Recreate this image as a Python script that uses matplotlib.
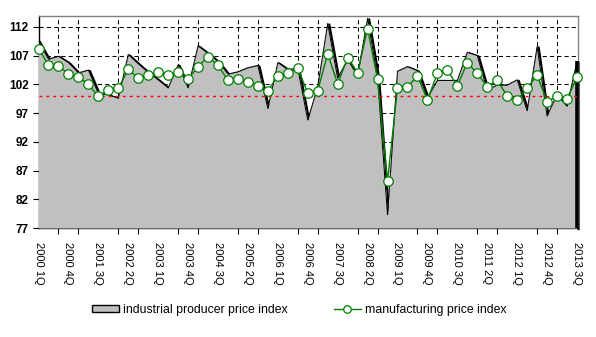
"""Quarterly price indices: industrial producer (area) vs manufacturing (line)."""

import matplotlib

matplotlib.use("Agg")
import matplotlib.pyplot as plt
from matplotlib.transforms import offset_copy

plt.rcParams["font.family"] = ["Liberation Sans", "DejaVu Sans"]

# Quarters 2000 1Q .. 2013 3Q
quarters = [f"{y} {q}Q" for y in range(2000, 2014) for q in range(1, 5)][:55]

industrial = [
    109.5, 106.4, 106.9, 105.8, 104.0, 104.5, 100.4, 100.2, 99.6, 107.2,
    105.6, 104.1, 102.8, 101.4, 105.4, 101.4, 108.7, 107.4, 106.0, 103.8,
    104.2, 104.9, 105.3, 97.8, 105.8, 104.6, 104.8, 95.8, 101.6, 112.6,
    103.1, 106.3, 103.5, 113.5, 103.2, 79.3, 104.3, 105.1, 104.4, 99.6,
    102.7, 102.7, 102.7, 107.6, 107.0, 101.0, 101.9, 101.9, 102.8, 97.4,
    108.6, 96.5, 100.2, 98.2, 106.0,
]

manufacturing = [
    108.2, 105.4, 105.2, 103.8, 103.3, 102.0, 99.9, 101.1, 101.3, 104.6,
    103.1, 103.6, 104.2, 103.6, 104.1, 102.9, 105.1, 106.8, 105.3, 102.7,
    102.9, 102.5, 101.8, 100.9, 103.5, 104.0, 104.8, 100.5, 100.9, 107.3,
    102.1, 106.6, 104.0, 111.7, 102.9, 85.2, 101.3, 101.5, 103.5, 99.3,
    103.9, 104.5, 101.7, 105.8, 103.9, 101.6, 102.7, 100.0, 99.3, 101.3,
    103.6, 99.0, 99.9, 99.5, 103.2,
]

baseline = 100
y_ticks = [77, 82, 87, 92, 97, 102, 107, 112]

x = list(range(len(quarters)))
y_floor = 77

fig = plt.figure(figsize=(5.96, 3.37), dpi=100)
fig.subplots_adjust(left=0.0646, right=0.9706, top=0.9525, bottom=0.3234)
ax = fig.add_subplot(111)

# shadow of the area outline, shifted a little right/down
shadow = offset_copy(ax.transData, fig=fig, x=1.6, y=-1.0, units="dots")
ax.plot(x + [x[-1]], industrial + [y_floor], color="black", lw=1.6,
        transform=shadow, zorder=2, clip_on=False)

ax.fill_between(x, industrial, y_floor, color="#c0c0c0", lw=0, zorder=3,
                label="industrial producer price index")
ax.plot(x, industrial, color="black", lw=0.7, zorder=3.5)
# closing edge of the area on the right
ax.plot([x[-1], x[-1]], [industrial[-1], y_floor], color="black", lw=2.6,
        zorder=3.6, clip_on=False, solid_capstyle="butt")

ax.axhline(baseline, color="red", lw=1.0, linestyle=(0, (2, 3)), zorder=4)

ax.plot(x, manufacturing, color="green", lw=1.0, marker="o", ms=6.8,
        mfc="white", mec="green", mew=0.9, zorder=5, clip_on=False,
        label="manufacturing price index")

ax.set_xlim(0, 54.15)
ax.set_ylim(y_floor, 113.9)

# labels every 3rd quarter, tick marks + grid every 2nd
ax.set_xticks(x[::3])
ax.set_xticklabels(quarters[::3], rotation=270, fontsize=8)
ax.set_xticks(x[::2], minor=True)
ax.tick_params(axis="x", which="major", length=0, pad=10)
ax.tick_params(axis="x", which="minor", length=4, direction="out", width=0.8)
ax.grid(True, axis="x", which="minor", color="black", lw=0.75,
        linestyle=(0, (4, 3)), zorder=1)

ax.set_yticks(y_ticks)
ax.set_yticklabels([str(v) for v in y_ticks], fontsize=8.5, fontweight="bold")
ax.tick_params(axis="y", length=4, direction="out", width=0.8, pad=3)
ax.grid(True, axis="y", color="black", lw=0.75, linestyle=(0, (4, 3)), zorder=1)
ax.set_axisbelow(True)

for side in ("left", "bottom"):
    ax.spines[side].set_color("black")
    ax.spines[side].set_linewidth(1.0)
for side in ("top", "right"):
    ax.spines[side].set_color("#808080")
    ax.spines[side].set_linewidth(1.0)

handles, labels = ax.get_legend_handles_labels()
leg = fig.legend(
    handles, labels, loc="center", bbox_to_anchor=(0.502, 0.08), ncol=2,
    frameon=False, fontsize=8.8, handlelength=2.2, handleheight=0.5,
    handletextpad=0.3, columnspacing=3.8, markerscale=0.8,
)
for h in leg.legend_handles:
    if hasattr(h, "set_edgecolor"):
        h.set_edgecolor("black")
        h.set_linewidth(1.0)

fig.savefig("out.png", dpi=100, facecolor="white")
